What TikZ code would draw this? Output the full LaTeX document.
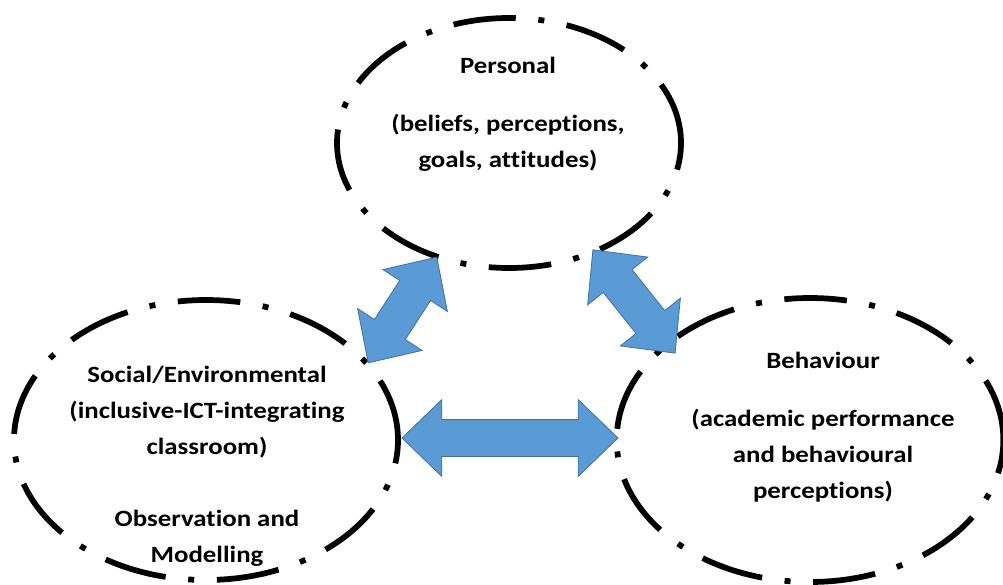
\documentclass[tikz,border=0pt]{standalone}
\usepackage{fontspec}
\setmainfont{Carlito}[FakeStretch=1.15,Ligatures=NoCommon]
\usetikzlibrary{shapes.geometric,shapes.arrows}

\definecolor{arrowfill}{RGB}{91,155,213}
\definecolor{arrowline}{RGB}{65,113,156}

\tikzset{every picture/.style={line width=0.75pt}}
\tikzset{
  sphere/.style={ellipse, draw, line width=4.3pt, inner sep=0pt,
    dash pattern=on 47pt off 17pt on 4.5pt off 17pt},
  label/.style={align=center, inner sep=0pt,
    font=\bfseries\fontsize{17.5}{27}\selectfont},
  biarrow/.style={double arrow, fill=arrowfill, draw=arrowline, line width=0.6pt,
    inner sep=13.5pt, double arrow head extend=15pt, double arrow tip angle=88}
}

\begin{document}
\begin{tikzpicture}[x=0.75pt,y=0.75pt,yscale=-1,xscale=1]
		\useasboundingbox (0,0) rectangle (1003,585);

		% the three ellipses
		\node [sphere, minimum width=258pt, minimum height=187.5pt] (personal) at (509,143) {};
		\node [sphere, minimum width=288pt, minimum height=210pt] (social) at (206,440) {};
		\node [sphere, minimum width=290pt, minimum height=213pt] (behaviour) at (810,440) {};

		% their texts
		\node [label] (personaltxt) at (508,114) {Personal\\[16.5pt](beliefs, perceptions,\\goals, attitudes)};
		\node [label] (socialtxt) at (207,466) {Social/Environmental\\(inclusive-ICT-integrating\\classroom)\\[27pt]Observation and\\Modelling};
		\node [label] (behaviourtxt) at (823,427) {Behaviour\\[16.5pt](academic performance\\and behavioural\\perceptions)};

		% two-way arrows between them
		\node [biarrow, minimum height=94.5pt, rotate=57] (sp) at (402.5,310) {};
		\node [biarrow, minimum height=99pt, rotate=-51.5] (pb) at (634,301.5) {};
		\node [biarrow, minimum height=162pt] (sb) at (510,438) {};
\end{tikzpicture}
\end{document}
